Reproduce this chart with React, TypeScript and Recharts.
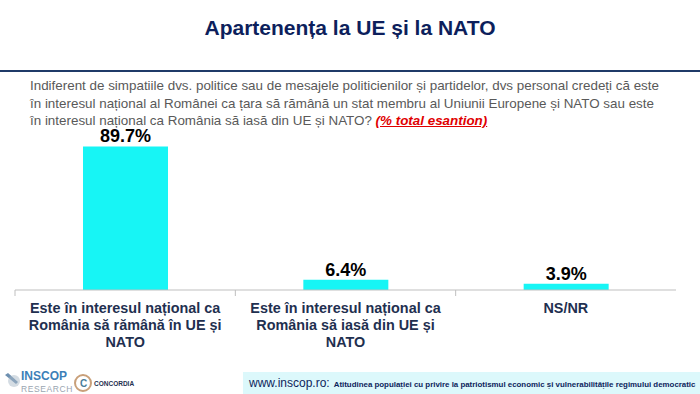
import React from 'react';
import { BarChart, Bar, XAxis, YAxis, LabelList } from 'recharts';

const categories: string[][] = [
  ['Este în interesul național ca', 'România să rămână în UE și', 'NATO'],
  ['Este în interesul național ca', 'România să iasă din UE și', 'NATO'],
  ['NS/NR'],
];
const values = [89.7, 6.4, 3.9];

const questionLines = [
  'Indiferent de simpatiile dvs. politice sau de mesajele politicienilor și partidelor, dvs personal credeți că este',
  'în interesul național al Românei ca țara să rămână un stat membru al Uniunii Europene și NATO sau este',
  'în interesul național ca România să iasă din UE și NATO? ',
];

const data = values.map((v, i) => ({ name: String(i), value: v }));

const NARROW = '"Liberation Sans Narrow", "Arial Narrow", "Liberation Sans", Arial, sans-serif';
const NAVY = '#0d1f5c';

const CHART_LEFT = 15;
const CHART_RIGHT = 24;
const HALF_BAND = (700 - CHART_LEFT - CHART_RIGHT) / values.length / 2;

const CategoryTick = (props: any) => {
  const { x, y, payload } = props;
  const lines = categories[Number(payload.value)] || [];
  return (
    <g>
      <line x1={x - HALF_BAND} y1={y - 8} x2={x - HALF_BAND} y2={y - 2} stroke="#bfbfbf" />
      <text
        x={x}
        y={y + 15}
        textAnchor="middle"
        fill="#1f3050"
        fontFamily={NARROW}
        fontWeight="bold"
        fontSize={14.4}
      >
        {lines.map((l, i) => (
          <tspan key={i} x={x} dy={i === 0 ? 0 : 17}>
            {l}
          </tspan>
        ))}
      </text>
    </g>
  );
};

const App: React.FC = () => {
  return (
    <div
      style={{
        position: 'fixed',
        left: 0,
        top: 0,
        width: 700,
        height: 394,
        background: '#ffffff',
        overflow: 'hidden',
      }}
    >
      <div
        style={{
          position: 'absolute',
          top: 16,
          left: 0,
          width: 700,
          textAlign: 'center',
          fontFamily: NARROW,
          fontWeight: 'bold',
          fontSize: 21,
          color: NAVY,
        }}
      >
        Apartenența la UE și la NATO
      </div>
      <div
        style={{
          position: 'absolute',
          top: 70,
          left: 0,
          width: 700,
          height: 2,
          background: '#1f3a68',
        }}
      />
      <div
        style={{
          position: 'absolute',
          top: 77,
          left: 30,
          width: 660,
          fontFamily: NARROW,
          fontSize: 13.4,
          lineHeight: '17.5px',
          color: '#595959',
          whiteSpace: 'nowrap',
        }}
      >
        {questionLines.map((l, i) => (
          <div key={i}>
            {l}
            {i === questionLines.length - 1 && (
              <span
                style={{
                  color: '#e00000',
                  fontWeight: 'bold',
                  fontStyle: 'italic',
                  textDecoration: 'underline',
                }}
              >
                (% total esantion)
              </span>
            )}
          </div>
        ))}
      </div>

      <div style={{ position: 'absolute', left: 0, top: 0 }}>
        <BarChart
          width={700}
          height={394}
          data={data}
          margin={{ top: 130, right: CHART_RIGHT, left: CHART_LEFT, bottom: 0 }}
        >
          <YAxis hide domain={[0, 100]} />
          <XAxis
            dataKey="name"
            height={104}
            axisLine={{ stroke: '#bfbfbf' }}
            tickLine={false}
            interval={0}
            tick={<CategoryTick />}
          />
          <Bar dataKey="value" fill="#17f5f5" barSize={85} isAnimationActive={false}>
            <LabelList
              dataKey="value"
              position="top"
              offset={4}
              formatter={(v: any) => `${Number(v).toFixed(1)}%`}
              style={{ fontFamily: 'Liberation Sans, Arial, sans-serif', fontWeight: 'bold', fontSize: 18, fill: '#000' }}
            />
          </Bar>
        </BarChart>
      </div>

      {/* footer */}
      <svg style={{ position: 'absolute', left: 0, top: 366 }} width={700} height={28}>
        <path d="M5 9 L16 18 L18 16 L8 7 Z" fill="#6d8fb0" />
        <circle cx={14} cy={15} r={6} fill="#aab9c8" opacity={0.5} />
        <text x={21} y={14} fontFamily="Liberation Sans, Arial" fontWeight="bold" fontSize={12} fill="#3c7fb8">
          INSCOP
        </text>
        <text x={21} y={26} fontFamily="Liberation Sans, Arial" fontSize={8.5} fill="#9aa5b0" letterSpacing={0.6}>
          RESEARCH
        </text>
        <circle cx={83} cy={17} r={8} fill="none" stroke="#c9a07a" strokeWidth={2} />
        <text x={80} y={21} fontFamily="Liberation Sans, Arial" fontWeight="bold" fontSize={10} fill="#4a7d9a">
          C
        </text>
        <text x={94} y={20} fontFamily="Liberation Sans, Arial" fontWeight="bold" fontSize={6.5} fill="#1f3050">
          CONCORDIA
        </text>
        <rect x={243} y={6} width={457} height={22} fill="#dcf8fb" />
        <text x={249} y={21} fontFamily={NARROW} fontSize={12} fill="#0d1f5c">
          www.inscop.ro:
          <tspan dx={4} fontSize={7.9} fontWeight="bold">
            Atitudinea populației cu privire la patriotismul economic și vulnerabilitățile regimului democratic
          </tspan>
        </text>
      </svg>
    </div>
  );
};

export default App;
